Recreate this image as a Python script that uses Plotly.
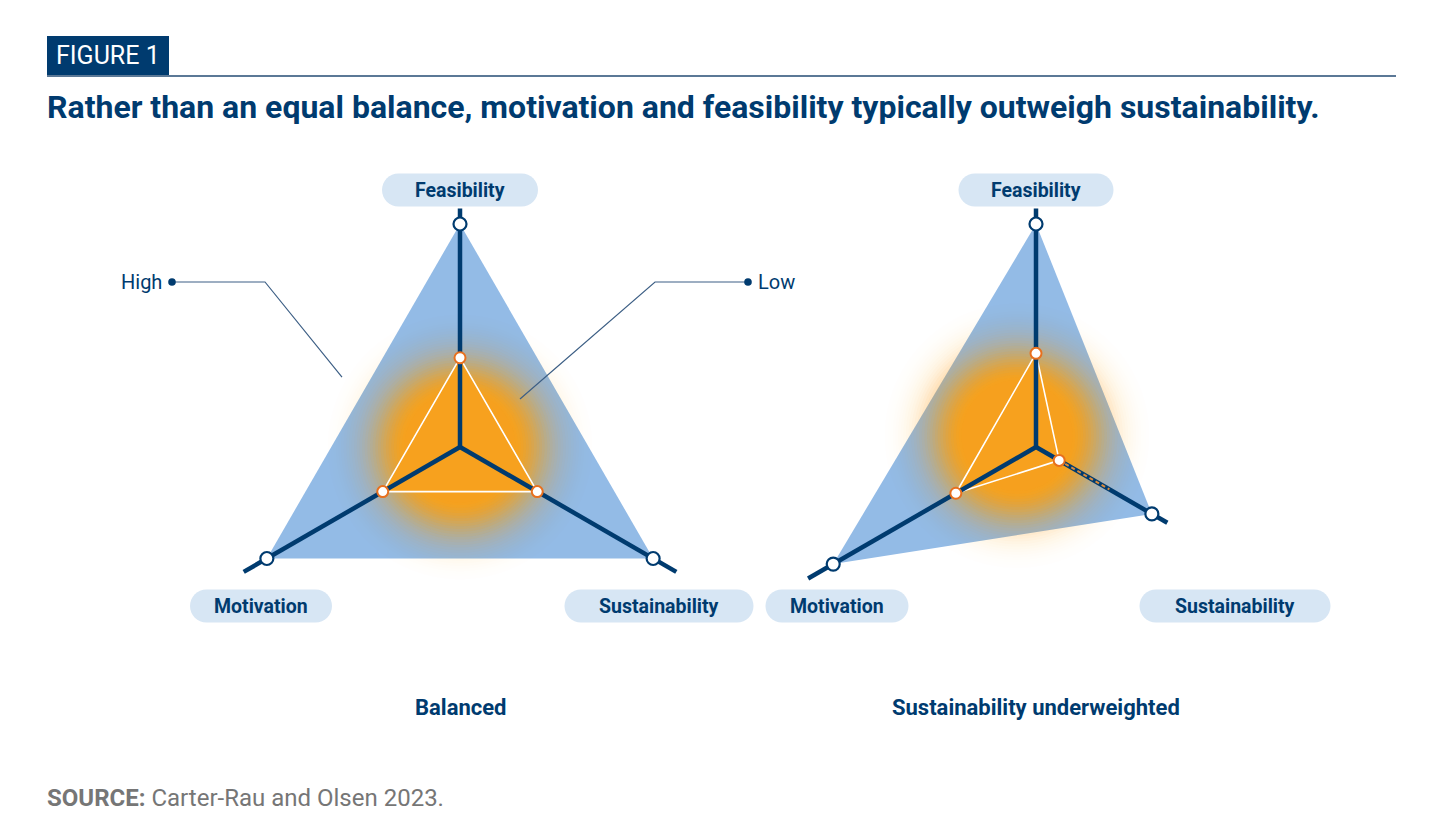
import numpy as np
import plotly.graph_objects as go

# ---------------------------------------------------------
# basic settings
# ---------------------------------------------------------
W, H = 1418, 824     # page has an 8px body margin
OFF = 8
NAVY = "#003B6F"
BLUE_FILL = "#93BBE6"
ORANGE = "#F7A11E"
ORANGE_EDGE = "#E8701E"
PILL = "#D7E6F4"
RULE = "#5B7896"
GRAY = "#767676"
FONT = "Roboto"

# ---------------------------------------------------------
# data
# ---------------------------------------------------------
AXES = ["Feasibility", "Motivation", "Sustainability"]
ANGLES = [90, 210, 330]

BAL_HIGH = [1.0, 1.0, 1.0]
BAL_LOW = [0.40, 0.40, 0.40]
BAL_AXIS_END = [1.07, 1.12, 1.12]

UND_HIGH = [1.0, 1.05, 0.60]
UND_LOW = [0.42, 0.415, 0.12]
UND_AXIS_END = [1.07, 1.18, 0.68]
UND_GAP_END = [None, None, 0.38]

PANELS = ["Balanced", "Sustainability underweighted"]
CALLOUTS = ["High", "Low"]

RMAX = 1.2
SCALE = 223          # px per unit
CENTERS = [(460, 447), (1036, 447)]


def px(x):
    return (x - OFF) / W


def py(y):
    return 1 - (y - OFF) / H


fig = go.Figure()


def glow(low, subplot, radius=0.54, n=50):
    # soft orange halo around the centroid of the low triangle
    th = np.radians(ANGLES)
    xs, ys = np.array(low) * np.cos(th), np.array(low) * np.sin(th)
    cx, cy = xs.mean(), ys.mean()
    phi = np.linspace(0, 2 * np.pi, 91)

    def target(s):
        if s <= 0.45:
            return 1.0
        return float(np.exp(-((s - 0.45) / 0.3) ** 2))

    prev = 0.0
    for s in np.linspace(1.1, 0.02, n):
        t = min(target(s), 0.995)
        a = 1 - (1 - t) / (1 - prev)
        prev = t
        if a <= 0:
            continue
        gx = cx + radius * s * np.cos(phi)
        gy = cy + radius * s * np.sin(phi)
        fig.add_trace(go.Scatterpolar(
            r=np.hypot(gx, gy), theta=np.degrees(np.arctan2(gy, gx)),
            mode="lines", fill="toself", line=dict(width=0),
            fillcolor=f"rgba(247,161,30,{a:.3f})", hoverinfo="skip", subplot=subplot))
        if t >= 0.995:
            break


def spokes(ends, subplot):
    r, th = [], []
    for e, a in zip(ends, ANGLES):
        r += [0, e, None]
        th += [a, a, None]
    fig.add_trace(go.Scatterpolar(r=r, theta=th, mode="lines",
                                  line=dict(color=NAVY, width=4.5), subplot=subplot))


def panel(high, low, axis_end, gap_end, subplot):
    th_closed = ANGLES + [ANGLES[0]]
    fig.add_trace(go.Scatterpolar(r=high + [high[0]], theta=th_closed, mode="lines",
                                  fill="toself", fillcolor=BLUE_FILL, line=dict(width=0),
                                  subplot=subplot))
    glow(low, subplot)
    fig.add_trace(go.Scatterpolar(r=low + [low[0]], theta=th_closed, mode="lines",
                                  fill="toself", fillcolor=ORANGE,
                                  line=dict(color="white", width=1.6), subplot=subplot))
    spokes(axis_end, subplot)
    for lo, g, a in zip(low, gap_end, ANGLES):
        if g is not None:
            fig.add_trace(go.Scatterpolar(r=[lo, g], theta=[a, a], mode="lines",
                                          line=dict(color="#D98A3A", width=2, dash="4px,3px"),
                                          subplot=subplot))
    fig.add_trace(go.Scatterpolar(r=high, theta=ANGLES, mode="markers",
                                  marker=dict(size=13, color="white", line=dict(color=NAVY, width=2.2)),
                                  subplot=subplot))
    fig.add_trace(go.Scatterpolar(r=low, theta=ANGLES, mode="markers",
                                  marker=dict(size=11, color="white", line=dict(color=ORANGE_EDGE, width=2)),
                                  subplot=subplot))


panel(BAL_HIGH, BAL_LOW, BAL_AXIS_END, [None, None, None], "polar")
panel(UND_HIGH, UND_LOW, UND_AXIS_END, UND_GAP_END, "polar2")

# polar layouts
half = RMAX * SCALE
polars = {}
for i, (cx, cy) in enumerate(CENTERS):
    key = "polar" if i == 0 else "polar2"
    polars[key] = dict(
        domain=dict(x=[px(cx - half), px(cx + half)], y=[py(cy + half), py(cy - half)]),
        bgcolor="rgba(0,0,0,0)",
        radialaxis=dict(range=[0, RMAX], visible=False),
        angularaxis=dict(visible=False, rotation=0, direction="counterclockwise"),
    )

shapes, annotations = [], []


def note(x, y, text, size, color=NAVY, xanchor="center"):
    annotations.append(dict(x=px(x), y=py(y), xref="paper", yref="paper", showarrow=False,
                            xanchor=xanchor, yanchor="middle", text=text,
                            font=dict(family=FONT, size=size, color=color)))


def pill(cx, cy, w, h=33):
    r = h / 2
    k = 0.5523 * r
    x0, x1, y0, y1 = cx - w / 2, cx + w / 2, cy - h / 2, cy + h / 2
    p = lambda x, y: f"{px(x):.5f},{py(y):.5f}"
    path = (f"M {p(x0 + r, y0)} L {p(x1 - r, y0)} "
            f"C {p(x1 - r + k, y0)} {p(x1, cy - k)} {p(x1, cy)} "
            f"C {p(x1, cy + k)} {p(x1 - r + k, y1)} {p(x1 - r, y1)} "
            f"L {p(x0 + r, y1)} "
            f"C {p(x0 + r - k, y1)} {p(x0, cy + k)} {p(x0, cy)} "
            f"C {p(x0, cy - k)} {p(x0 + r - k, y0)} {p(x0 + r, y0)} Z")
    shapes.append(dict(type="path", xref="paper", yref="paper", path=path,
                       fillcolor=PILL, line=dict(width=0), layer="below"))


# axis label pills
PILL_POS = [
    [(460, 190, 156), (261, 606, 142), (659, 606, 189)],
    [(1036, 190, 155), (837, 606, 143), (1235, 606, 191)],
]
for pos in PILL_POS:
    for name, (x, y, w) in zip(AXES, pos):
        pill(x, y, w)
        note(x, y, f"<b>{name}</b>", 19.5)

# panel captions
for name, (cx, cy) in zip(PANELS, CENTERS):
    note(cx, 707, f"<b>{name}</b>", 22)

# High / Low callouts
CALLOUT_PATHS = [
    [(172, 282), (265, 282), (342, 377)],
    [(748, 282), (655, 282), (520, 399)],
]
for name, pts in zip(CALLOUTS, CALLOUT_PATHS):
    path = "M " + " L ".join(f"{px(x):.5f},{py(y):.5f}" for x, y in pts)
    shapes.append(dict(type="path", xref="paper", yref="paper", path=path,
                       line=dict(color="#3D5F85", width=1.2)))
    dx, dy = pts[0]
    shapes.append(dict(type="circle", xref="paper", yref="paper",
                       x0=px(dx - 3.8), x1=px(dx + 3.8), y0=py(dy + 3.8), y1=py(dy - 3.8),
                       fillcolor=NAVY, line=dict(width=0)))
    left = pts[1][0] < pts[0][0]
    note(dx + 8 if left else dx - 8, dy, name, 20, xanchor="left" if left else "right")

# header
shapes.append(dict(type="rect", xref="paper", yref="paper", x0=px(47), x1=px(169),
                   y0=py(76), y1=py(36), fillcolor=NAVY, line=dict(width=0)))
shapes.append(dict(type="line", xref="paper", yref="paper", x0=px(47), x1=px(1396),
                   y0=py(76), y1=py(76), line=dict(color=RULE, width=2)))
note(54, 55, "FIGURE 1", 25, color="white", xanchor="left")
note(45, 107, "<b>Rather than an equal balance, motivation and feasibility typically outweigh sustainability.</b>",
     32, xanchor="left")
note(45, 798, "<b>SOURCE:</b> Carter-Rau and Olsen 2023.", 24, color=GRAY, xanchor="left")

fig.update_layout(
    width=W, height=H,
    margin=dict(l=0, r=0, t=0, b=0),
    paper_bgcolor="white",
    showlegend=False,
    shapes=shapes,
    annotations=annotations,
    **polars,
)

fig.write_html("out.html")
